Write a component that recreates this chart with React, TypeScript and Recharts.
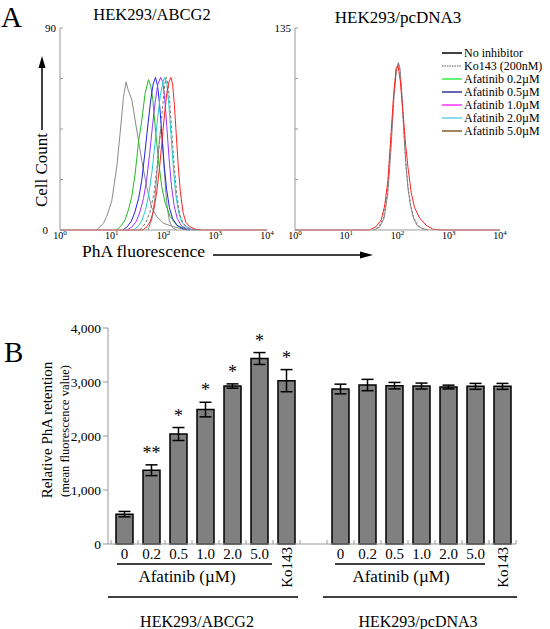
import React from 'react';
import { LineChart, Line, XAxis, YAxis, ComposedChart, Bar, ErrorBar, Scatter } from 'recharts';

const FONT = '"Liberation Serif", "Times New Roman", Times, serif';

// ---------- Panel A : histogram data (fluorescence, cell count) ----------
const decadeTicks = [1, 10, 100, 1000, 10000];
const decadeExponents = ['0', '1', '2', '3', '4'];
const abcg2CountTicks = [0, 22.5, 45, 67.5, 90];
const pcdnaCountTicks = [0, 33.75, 67.5, 101.25, 135];

const abcg2NoInhibitor = [[5.1, 0], [6.9, 3], [8, 6], [10, 13], [12.5, 28], [14.5, 43], [16.8, 59], [18.9, 66], [21, 62], [24.4, 58], [28.3, 49], [32.8, 40], [38, 31], [47.6, 19], [59, 10], [74, 6], [100, 3], [155, 1.5], [282, 0]];
const abcg2Shoulder = [[50, 0], [60, 5], [68, 14], [75, 26], [82, 38], [88, 45], [94, 42], [100, 32], [108, 20], [118, 10], [130, 4], [150, 1], [180, 0]];
const abcg2Ko143 = [[35, 0], [45, 3], [55, 8], [65, 16], [75, 28], [86, 42], [97, 56], [106, 65], [113, 68], [122, 65], [133, 56], [146, 42], [162, 28], [180, 16], [205, 7], [240, 3], [300, 1], [400, 0]];
const abcg2Afa02 = [[12.5, 0], [15.6, 2.2], [18.1, 4.5], [21, 9], [24.4, 15], [28.3, 25], [32.8, 39], [38.1, 49], [44.2, 61], [51.3, 67], [56.9, 64], [62.2, 58], [69, 46], [80, 31], [93, 19], [108, 12], [135, 6], [181, 2], [282, 0.3], [513, 0]];
const abcg2Afa05 = [[16.5, 0], [20, 1.5], [24, 4], [28, 8], [33, 14], [38, 22], [43, 33], [49, 45], [56, 57], [63, 65], [70, 68], [77, 64], [84, 56], [92, 44], [102, 30], [115, 18], [130, 10], [150, 5], [185, 2], [240, 0.5], [320, 0]];
const abcg2Afa10 = [[20, 0], [25, 1.5], [30, 4], [35, 8], [41, 14], [47, 22], [54, 34], [61, 46], [69, 57], [78, 65], [88, 68], [97, 66], [106, 58], [116, 46], [128, 32], [142, 20], [160, 11], [185, 5], [220, 2], [280, 0.5], [380, 0]];
const abcg2Afa20 = [[26, 0], [32, 1.5], [38, 4], [45, 9], [52, 16], [60, 26], [68, 38], [77, 50], [87, 60], [97, 66], [106, 68], [116, 65], [127, 56], [140, 42], [155, 28], [172, 16], [195, 8], [225, 3.5], [270, 1.5], [350, 0.3], [450, 0]];
const abcg2Afa50 = [[1, 0], [40, 0], [48, 1.5], [56, 4], [65, 9], [74, 17], [84, 28], [94, 40], [105, 52], [116, 61], [128, 66], [139, 68], [150, 65], [162, 56], [176, 43], [192, 29], [212, 17], [238, 8], [270, 3.5], [320, 1.5], [420, 0.3], [600, 0], [10000, 0]];

const pcdnaNoInhibitor = [[35, 0], [45, 2], [55, 8], [65, 25], [75, 55], [85, 88], [95, 106], [104, 112], [112, 108], [122, 90], [133, 66], [145, 45], [160, 28], [180, 16], [205, 8], [240, 3], [300, 1], [400, 0]];
const pcdnaKo143 = [[33, 0], [43, 2], [53, 8], [63, 24], [73, 54], [84, 88], [94, 107], [103, 111], [111, 107], [121, 91], [132, 67], [144, 46], [160, 29], [180, 17], [205, 9], [240, 4], [300, 1], [420, 0]];
const pcdnaAfa50 = [[1, 0], [28, 0], [38, 2.2], [48, 6.7], [56, 16], [65, 33], [75, 65], [84, 90], [94, 108], [102, 110], [113, 100], [127, 80], [144, 57], [160, 42], [185, 25], [215, 15], [270, 8], [365, 3], [493, 0.5], [776, 0], [10000, 0]];

const legendNames = ['No inhibitor', 'Ko143 (200nM)', 'Afatinib 0.2\u00b5M', 'Afatinib 0.5\u00b5M', 'Afatinib 1.0\u00b5M', 'Afatinib 2.0\u00b5M', 'Afatinib 5.0\u00b5M'];
const legendColors = ['#000000', '#555555', '#33ee44', '#333399', '#ff33ff', '#66ccee', '#8b5a2b'];

// ---------- Panel B : bar data ----------
const groupLabels = ['0', '0.2', '0.5', '1.0', '2.0', '5.0', 'Ko143'];
const abcg2Means = [553, 1366, 2037, 2490, 2925, 3435, 3025];
const abcg2Errors = [50, 100, 120, 135, 40, 110, 205];
const abcg2Stars = ['', '**', '*', '*', '*', '*', '*'];
const pcdnaMeans = [2870, 2944, 2932, 2925, 2907, 2919, 2919];
const pcdnaErrors = [90, 105, 60, 55, 35, 55, 55];
const yTicksB = [0, 1000, 2000, 3000, 4000];
const doseTitle = 'Afatinib (\u00b5M)';

const toPts = (arr: number[][]) => arr.map(([x, y]) => ({ x, y }));

const barData = [
  ...groupLabels.map((l, i) => ({ id: 'A' + i, label: l, mean: abcg2Means[i], err: abcg2Errors[i], star: abcg2Stars[i], starAt: abcg2Stars[i] ? abcg2Means[i] + abcg2Errors[i] : null })),
  { id: 'gap', label: '', mean: null, err: null, star: '', starAt: null },
  ...groupLabels.map((l, i) => ({ id: 'P' + i, label: l, mean: pcdnaMeans[i], err: pcdnaErrors[i], star: '', starAt: null })),
];

// layout constants
const B_W = 531, B_RIGHT = 15, B_LEFT = 108, B_PAD = 3;
const BAND = (B_W - B_RIGHT - B_LEFT - B_PAD) / barData.length;
const AXIS_GRAY = '#999999';

const DecadeTick = (props: any) => {
  const { x, y, index } = props;
  return (
    <text x={x} y={y + 8.5} textAnchor="middle" fontSize={10} fontFamily={FONT} fill="#000">
      10<tspan dy={-4} fontSize={7}>{decadeExponents[index]}</tspan>
    </text>
  );
};

const makeCountTick = (labelled: number[]) => (props: any) => {
  const { x, y, payload } = props;
  const show = labelled.includes(payload.value);
  const isZero = payload.value === 0;
  return (
    <g>
      <line x1={x} x2={x + 3} y1={y} y2={y} stroke={AXIS_GRAY} />
      {show && (
        <text x={isZero ? x - 12 : x - 4} y={y + 4} textAnchor="end" fontSize={11} fontFamily={FONT} fill="#000">
          {payload.value}
        </text>
      )}
    </g>
  );
};

const BarTick = (props: any) => {
  const { x, y, index } = props;
  const label = barData[index] ? barData[index].label : '';
  const right = x + BAND / 2;
  return (
    <g>
      {index === 0 && <line x1={x - BAND / 2} x2={x - BAND / 2} y1={y} y2={y - 4} stroke={AXIS_GRAY} />}
      <line x1={right} x2={right} y1={y} y2={y - 4} stroke={AXIS_GRAY} />
      {label === 'Ko143' ? (
        <text transform={`translate(${x + 5},${y + 3}) rotate(-90)`} textAnchor="end" fontSize={15} fontFamily={FONT} fill="#000">
          {label}
        </text>
      ) : (
        <text x={x} y={y + 15} textAnchor="middle" fontSize={15} fontFamily={FONT} fill="#000">
          {label}
        </text>
      )}
    </g>
  );
};

const StarShape = (props: any) => {
  const { cx, cy, payload } = props;
  if (!payload || !payload.star || !isFinite(cx) || !isFinite(cy)) return <g />;
  return (
    <text x={cx} y={cy - 6} textAnchor="middle" fontSize={18} fontFamily={FONT} fill="#000" stroke="none">
      {payload.star}
    </text>
  );
};

const lineProps = { dot: false, isAnimationActive: false, dataKey: 'y', strokeWidth: 1 } as any;

export default function App() {
  return (
    <div style={{ position: 'absolute', left: 0, top: 0, width: 550, height: 629, background: '#fff', fontFamily: FONT, overflow: 'hidden' }}>
      {/* Panel A left */}
      <div style={{ position: 'absolute', left: 0, top: 0 }}>
        <LineChart width={280} height={260} margin={{ top: 28, right: 13, bottom: 0, left: 0 }}>
          <XAxis type="number" dataKey="x" scale="log" domain={[1, 10000]} ticks={decadeTicks} allowDataOverflow height={30} stroke={AXIS_GRAY} tickLine={false} tickSize={0} tickMargin={0} interval={0} tick={DecadeTick} />
          <YAxis type="number" domain={[0, 90]} ticks={abcg2CountTicks} width={60} stroke={AXIS_GRAY} tickLine={false} tickSize={0} tickMargin={0} interval={0} tick={makeCountTick([0, 90])} />
          <Line {...lineProps} data={toPts(abcg2NoInhibitor)} stroke="#8a8a8a" />
          <Line {...lineProps} data={toPts(abcg2Shoulder)} stroke="#8a8a8a" />
          <Line {...lineProps} data={toPts(abcg2Afa02)} stroke="#22bb22" />
          <Line {...lineProps} data={toPts(abcg2Afa05)} stroke="#2222dd" />
          <Line {...lineProps} data={toPts(abcg2Afa10)} stroke="#9933ff" />
          <Line {...lineProps} data={toPts(abcg2Afa20)} stroke="#22cccc" />
          <Line {...lineProps} data={toPts(abcg2Ko143)} stroke="#7a7a7a" strokeDasharray="3 2" />
          <Line {...lineProps} data={toPts(abcg2Afa50)} stroke="#ff2222" />
        </LineChart>
      </div>

      {/* Panel A right */}
      <div style={{ position: 'absolute', left: 240, top: 0 }}>
        <LineChart width={270} height={260} margin={{ top: 28, right: 10, bottom: 0, left: 0 }}>
          <XAxis type="number" dataKey="x" scale="log" domain={[1, 10000]} ticks={decadeTicks} allowDataOverflow height={30} stroke={AXIS_GRAY} tickLine={false} tickSize={0} tickMargin={0} interval={0} tick={DecadeTick} />
          <YAxis type="number" domain={[0, 135]} ticks={pcdnaCountTicks} width={55} stroke={AXIS_GRAY} tickLine={false} tickSize={0} tickMargin={0} interval={0} tick={makeCountTick([135])} />
          <Line {...lineProps} data={toPts(pcdnaNoInhibitor)} stroke="#8a8a8a" />
          <Line {...lineProps} data={toPts(pcdnaKo143)} stroke="#7a7a7a" strokeDasharray="2 2" />
          <Line {...lineProps} data={toPts(pcdnaAfa50)} stroke="#ff2222" />
        </LineChart>
      </div>

      {/* Panel B */}
      <div style={{ position: 'absolute', left: 0, top: 300 }}>
        <ComposedChart width={B_W} height={329} data={barData} margin={{ top: 28, right: B_RIGHT, bottom: 0, left: 0 }}>
          <XAxis dataKey="id" type="category" height={85} padding={{ left: B_PAD, right: 0 }} stroke={AXIS_GRAY} tickLine={false} tickSize={0} tickMargin={0} interval={0} tick={BarTick} />
          <YAxis type="number" domain={[0, 4000]} ticks={yTicksB} width={B_LEFT} stroke={AXIS_GRAY} tickSize={5} tickMargin={2} interval={0}
            tickFormatter={(v: number) => v.toLocaleString('en-US')}
            tick={{ fontSize: 13.5, fill: '#000', fontFamily: FONT }} />
          <Bar dataKey="mean" fill="#808080" stroke="#000" strokeWidth={1.5} barSize={17} isAnimationActive={false}>
            <ErrorBar dataKey="err" width={6} stroke="#000" strokeWidth={1.5} />
          </Bar>
          <Scatter dataKey="starAt" isAnimationActive={false} shape={StarShape} fill="#000" />
        </ComposedChart>
      </div>

      {/* Annotations */}
      <svg width={550} height={629} style={{ position: 'absolute', left: 0, top: 0, pointerEvents: 'none' }} fontFamily={FONT}>
        <text x={1} y={27} fontSize={29} fill="#000">A</text>
        <text x={4} y={362} fontSize={29} fill="#000">B</text>
        <text x={152} y={20} fontSize={16.5} textAnchor="middle" fill="#000">HEK293/ABCG2</text>
        <text x={398} y={23} fontSize={17} textAnchor="middle" fill="#000">HEK293/pcDNA3</text>

        <text transform="translate(47,170) rotate(-90)" fontSize={17} textAnchor="middle" fill="#000">Cell Count</text>
        <line x1={42} y1={130} x2={42} y2={64} stroke="#000" strokeWidth={1.5} />
        <polygon points="42,56 38.5,68 45.5,68" fill="#000" />

        <text x={82} y={257} fontSize={17.5} fill="#000">PhA fluorescence</text>
        <line x1={213} y1={255} x2={362} y2={255} stroke="#000" strokeWidth={1.5} />
        <polygon points="373,255 360,251.5 360,258.5" fill="#000" />

        {legendNames.map((n, i) => {
          const yy = 53 + i * 13;
          return (
            <g key={n}>
              <line x1={442} x2={462} y1={yy} y2={yy} stroke={legendColors[i]} strokeWidth={i === 1 ? 1 : 1.5} strokeDasharray={i === 1 ? '1.5 1' : undefined} />
              <text x={464} y={yy + 4} fontSize={12} fill="#000">{n}</text>
            </g>
          );
        })}

        <text transform="translate(52,430) rotate(-90)" fontSize={15} textAnchor="middle" fill="#000">Relative PhA retention</text>
        <text transform="translate(69,431) rotate(-90)" fontSize={12.5} textAnchor="middle" fill="#000">(mean fluorescence value)</text>

        <line x1={117} x2={272} y1={564} y2={564} stroke="#000" strokeWidth={1.5} />
        <line x1={335} x2={485} y1={564} y2={564} stroke="#000" strokeWidth={1.5} />
        <line x1={108} x2={298} y1={597} y2={597} stroke="#000" strokeWidth={1.5} />
        <line x1={323} x2={517} y1={597} y2={597} stroke="#000" strokeWidth={1.5} />
        <text x={187} y={582} fontSize={17} textAnchor="middle" fill="#000">{doseTitle}</text>
        <text x={401} y={582} fontSize={17} textAnchor="middle" fill="#000">{doseTitle}</text>
        <text x={197} y={627} fontSize={16} textAnchor="middle" fill="#000">HEK293/ABCG2</text>
        <text x={418} y={627} fontSize={16} textAnchor="middle" fill="#000">HEK293/pcDNA3</text>
      </svg>
    </div>
  );
}
